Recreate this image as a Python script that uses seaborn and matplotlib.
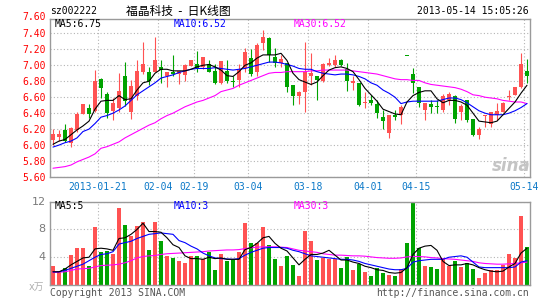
import numpy as np
import pandas as pd
import matplotlib
matplotlib.use("Agg")
import matplotlib.pyplot as plt
import seaborn as sns

# ---------------- data ----------------
tick_pos = [8, 18, 24, 33, 43, 53, 61, 79]
tick_labels = ["2013-01-21", "02-04", "02-19", "03-04", "03-18", "04-01", "04-15", "05-14"]
vol_grid_pos = [8, 18, 33, 43, 53, 61]
vol_ticks = [4, 8, 12]
vol_tick_labels = ["4", "8", "12"]

open_ = [6.06, 6.10, 6.19, 6.03, 6.19, 6.39, 6.47, 6.43, 6.83, 6.64,
         6.43, 6.46, 6.87, 6.41, 6.61, 6.91, 6.92, 6.92, 6.98, 6.87,
         6.91, 6.89, 6.88, 6.99, 7.02, 6.98, 7.02, 6.93, 6.78, 6.93,
         6.80, 6.82, 6.97, 7.09, 6.91, 7.28, 7.34, 7.11, 7.03, 7.03,
         6.75, 6.61, 6.67, 6.86, 6.86, 6.80, 7.00, 7.00, 7.06, 6.95,
         6.78, 6.78, 6.53, 6.57, 6.52, 6.35, 6.15, 6.38, 6.38, 7.12,
         6.89, 6.73, 6.44, 6.52, 6.49, 6.44, 6.57, 6.61, 6.42, 6.56,
         6.33, 6.13, 6.37, 6.27, 6.38, 6.42, 6.60, 6.63, 6.73, 6.93]
high = [6.20, 6.19, 6.26, 6.23, 6.42, 6.52, 6.52, 6.94, 6.84, 6.67,
        6.59, 6.90, 7.04, 6.82, 7.07, 7.29, 6.98, 7.35, 7.07, 6.91,
        7.13, 6.93, 7.02, 7.07, 7.18, 7.10, 7.06, 7.02, 7.05, 7.06,
        6.86, 7.02, 7.22, 7.21, 7.28, 7.44, 7.36, 7.22, 7.13, 7.03,
        6.75, 6.68, 7.29, 7.15, 6.86, 7.03, 7.09, 7.13, 7.08, 7.03,
        6.86, 6.78, 6.67, 6.63, 6.57, 6.44, 6.38, 6.44, 6.50, 7.12,
        6.97, 6.73, 6.53, 6.56, 6.56, 6.64, 6.67, 6.63, 6.52, 6.56,
        6.33, 6.23, 6.38, 6.42, 6.53, 6.54, 6.69, 6.73, 7.16, 7.08]
low = [6.00, 6.05, 6.04, 5.98, 6.16, 6.39, 6.34, 6.42, 6.59, 6.34,
       6.31, 6.41, 6.49, 6.33, 6.57, 6.89, 6.75, 6.92, 6.78, 6.73,
       6.87, 6.77, 6.80, 6.99, 6.91, 6.95, 6.91, 6.77, 6.77, 6.78,
       6.73, 6.73, 6.92, 6.86, 6.86, 7.19, 7.04, 6.98, 6.98, 6.67,
       6.50, 6.51, 6.41, 6.75, 6.57, 6.79, 6.99, 6.98, 6.99, 6.68,
       6.69, 6.49, 6.46, 6.50, 6.34, 6.20, 6.09, 6.32, 6.27, 7.12,
       6.65, 6.48, 6.32, 6.40, 6.40, 6.42, 6.50, 6.28, 6.32, 6.29,
       6.12, 6.07, 6.23, 6.23, 6.32, 6.41, 6.56, 6.63, 6.71, 6.78]
close = [6.14, 6.14, 6.05, 6.21, 6.39, 6.52, 6.39, 6.80, 6.71, 6.40,
         6.53, 6.68, 6.55, 6.74, 6.93, 7.02, 6.80, 7.07, 6.94, 6.91,
         6.89, 6.93, 7.00, 7.07, 6.96, 7.10, 6.92, 6.78, 7.05, 6.80,
         6.79, 6.94, 7.17, 6.89, 7.25, 7.36, 7.13, 7.03, 7.08, 6.73,
         6.62, 6.67, 6.91, 6.90, 6.82, 7.01, 7.03, 7.07, 7.00, 6.80,
         6.80, 6.50, 6.54, 6.53, 6.40, 6.30, 6.38, 6.35, 6.48, 7.12,
         6.78, 6.53, 6.53, 6.48, 6.48, 6.62, 6.64, 6.33, 6.49, 6.32,
         6.13, 6.20, 6.38, 6.42, 6.43, 6.53, 6.61, 6.73, 7.02, 6.87]

ma5 = [6.01, 6.05, 6.07, 6.13, 6.19, 6.24, 6.30, 6.45, 6.55, 6.56,
       6.56, 6.62, 6.57, 6.58, 6.69, 6.78, 6.80, 6.90, 6.95, 6.95,
       6.93, 6.93, 6.93, 6.95, 6.98, 7.00, 7.01, 6.98, 6.94, 6.87,
       6.86, 6.92, 7.00, 7.03, 7.09, 7.13, 7.13, 7.13, 7.15, 7.06,
       6.90, 6.82, 6.79, 6.76, 6.79, 6.87, 6.94, 6.97, 6.98, 6.96,
       6.92, 6.82, 6.71, 6.63, 6.55, 6.45, 6.42, 6.39, 6.38, 6.54,
       6.62, 6.66, 6.68, 6.68, 6.58, 6.53, 6.56, 6.56, 6.54, 6.50,
       6.40, 6.30, 6.29, 6.28, 6.30, 6.38, 6.46, 6.54, 6.65, 6.75]
ma10 = [5.975, 6.00, 6.03, 6.05, 6.09, 6.17, 6.20, 6.27, 6.35, 6.37,
        6.40, 6.44, 6.49, 6.56, 6.63, 6.68, 6.73, 6.78, 6.84, 6.86,
        6.88, 6.91, 6.93, 6.95, 6.96, 6.96, 6.96, 6.97, 6.96, 6.95,
        6.94, 6.95, 6.96, 6.98, 7.00, 7.02, 7.04, 7.04, 7.03, 7.01,
        6.99, 6.96, 6.95, 6.95, 6.92, 6.90, 6.89, 6.88, 6.89, 6.89,
        6.88, 6.86, 6.83, 6.78, 6.75, 6.69, 6.65, 6.60, 6.52, 6.54,
        6.55, 6.55, 6.55, 6.55, 6.55, 6.57, 6.59, 6.59, 6.57, 6.53,
        6.48, 6.43, 6.40, 6.38, 6.38, 6.38, 6.40, 6.43, 6.47, 6.52]
ma30 = [5.71, 5.72, 5.73, 5.75, 5.79, 5.82, 5.85, 5.89, 5.96, 5.98,
        6.01, 6.04, 6.09, 6.13, 6.17, 6.21, 6.25, 6.28, 6.33, 6.37,
        6.40, 6.44, 6.48, 6.51, 6.54, 6.56, 6.59, 6.62, 6.67, 6.69,
        6.71, 6.75, 6.78, 6.81, 6.84, 6.87, 6.90, 6.91, 6.91, 6.92,
        6.92, 6.92, 6.92, 6.93, 6.93, 6.94, 6.94, 6.94, 6.94, 6.94,
        6.93, 6.92, 6.91, 6.90, 6.89, 6.87, 6.85, 6.83, 6.82, 6.82,
        6.81, 6.81, 6.78, 6.76, 6.75, 6.74, 6.73, 6.72, 6.70, 6.67,
        6.63, 6.62, 6.60, 6.59, 6.58, 6.56, 6.55, 6.54, 6.54, 6.52]

volume = [2.8, 2.0, 2.5, 4.3, 5.3, 5.3, 2.8, 8.3, 4.8, 4.9,
          4.4, 11.1, 8.6, 7.1, 8.5, 9.1, 5.1, 9.1, 6.4, 4.2,
          3.9, 3.5, 3.1, 4.2, 4.2, 3.7, 4.8, 2.2, 4.5, 3.5,
          3.6, 4.8, 8.9, 6.1, 6.1, 8.3, 5.7, 3.8, 2.7, 4.2,
          2.9, 1.3, 7.8, 6.3, 3.6, 3.9, 3.75, 3.75, 2.45, 4.0,
          2.15, 3.0, 1.9, 1.3, 2.4, 1.7, 1.45, 1.3, 2.3, 6.1,
          11.9, 5.3, 2.7, 2.55, 2.3, 3.85, 2.7, 3.4, 2.6, 3.2,
          2.3, 1.05, 1.8, 2.15, 2.15, 2.9, 4.5, 3.9, 9.9, 5.5]
vol_ma5 = [1.9, 1.9, 2.3, 2.9, 3.4, 3.9, 4.0, 5.2, 5.3, 5.2,
           5.0, 6.7, 6.8, 7.3, 8.0, 8.9, 7.7, 7.7, 7.6, 6.8,
           5.8, 5.4, 4.2, 3.8, 3.8, 3.7, 4.0, 3.8, 3.9, 3.7,
           3.7, 3.7, 5.1, 5.4, 6.0, 6.8, 7.0, 6.0, 5.3, 4.9,
           3.9, 2.9, 3.7, 4.4, 4.4, 4.6, 5.0, 4.3, 3.6, 3.6,
           3.3, 3.1, 2.7, 2.5, 2.2, 2.1, 1.8, 1.7, 1.8, 2.5,
           4.4, 5.3, 5.6, 5.7, 5.0, 3.4, 2.8, 2.9, 2.9, 3.1,
           2.9, 2.5, 2.2, 2.0, 1.9, 2.0, 2.6, 3.1, 4.6, 5.3]
vol_ma10 = [1.9, 1.9, 2.1, 2.4, 2.7, 3.0, 3.5, 4.0, 4.4, 4.5,
            4.8, 5.9, 6.1, 6.3, 6.7, 7.0, 7.3, 7.4, 7.5, 7.4,
            7.3, 6.4, 6.1, 5.6, 5.2, 4.6, 4.2, 3.9, 3.8, 3.75,
            3.7, 3.8, 4.3, 4.7, 5.0, 5.3, 5.4, 5.4, 5.4, 5.3,
            5.0, 4.8, 4.5, 4.2, 4.1, 4.0, 3.9, 3.8, 3.7, 3.7,
            3.6, 3.4, 3.1, 2.9, 2.7, 2.5, 2.3, 2.2, 2.2, 2.4,
            3.3, 3.5, 3.6, 3.7, 3.7, 3.7, 4.0, 4.1, 4.2, 4.0,
            3.3, 2.6, 2.5, 2.5, 2.5, 2.5, 2.5, 2.6, 3.3, 3.5]
vol_ma30 = [1.8, 1.85, 1.9, 2.1, 2.3, 2.35, 2.4, 2.6, 2.8, 2.85,
            2.9, 3.0, 3.2, 3.5, 3.9, 4.1, 4.2, 4.25, 4.4, 4.5,
            4.55, 4.6, 4.65, 4.7, 4.75, 4.8, 4.9, 4.95, 5.0, 5.05,
            5.05, 5.1, 5.25, 5.35, 5.45, 5.5, 5.5, 5.5, 5.45, 5.4,
            5.2, 5.0, 4.9, 4.8, 4.7, 4.5, 4.4, 4.3, 4.3, 4.25,
            4.2, 4.2, 4.15, 4.05, 3.95, 3.9, 3.85, 3.85, 3.9, 4.05,
            4.1, 4.1, 4.05, 3.95, 3.9, 3.8, 3.75, 3.7, 3.6, 3.5,
            3.4, 3.2, 3.1, 3.05, 3.0, 3.0, 3.05, 3.1, 3.2, 3.3]

# ---------------- style ----------------
sns.set_style("white")
plt.rcParams["font.family"] = ["DejaVu Sans Mono", "Noto Sans CJK SC"]

RED = "#ff5252"
GREEN = "#00a300"
GRID = "#b4b4b4"
FRAME = "#9a9a9a"
LW = 0.8

W, H = 545, 300
fig = plt.figure(figsize=(W / 100, H / 100), dpi=100)
fig.patch.set_facecolor("white")

def fx(x):
    return x / W

def fy(y):
    return 1 - y / H

ax = fig.add_axes([fx(50), fy(177), 480 / W, 158 / H])
axv = fig.add_axes([fx(50), fy(285), 480 / W, 83.3 / H])

idx = np.arange(len(close))
o = np.array(open_); c = np.array(close)
h = np.array(high); l = np.array(low)
colors = np.where(c > o, RED, GREEN)

df = pd.DataFrame({"i": idx, "ma5": ma5, "ma10": ma10, "ma30": ma30,
                   "vol": volume, "v5": vol_ma5, "v10": vol_ma10, "v30": vol_ma30})

# ---- price panel ----
ax.vlines(idx, l, h, colors=colors, lw=0.8, zorder=2)
ax.bar(idx, np.maximum(np.abs(c - o), 0.012), bottom=np.minimum(o, c),
       width=0.82, color=colors, lw=0, zorder=3)
sns.lineplot(data=df, x="i", y="ma30", color="#ff00ff", lw=LW, ax=ax, zorder=4)
sns.lineplot(data=df, x="i", y="ma10", color="#0000ff", lw=LW, ax=ax, zorder=5)
sns.lineplot(data=df, x="i", y="ma5", color="black", lw=LW, ax=ax, zorder=6)

ax.set_xlim(-0.5, 79.5)
ax.set_ylim(5.60, 7.58)
yt = np.round(np.arange(5.6, 7.41, 0.2), 2)
ax.set_yticks(yt)
ax.set_yticklabels([f"{v:.2f}" for v in yt])
ax.set_xticks(np.array(tick_pos) - 0.5)
ax.set_xticklabels(tick_labels)
ax.tick_params(axis="y", length=0, pad=3.3, labelcolor="#ff0000", labelsize=7)
ax.tick_params(axis="x", length=0, pad=3.5, labelcolor="#0a78c8", labelsize=7)
ax.set_xlabel(""); ax.set_ylabel("")
ax.grid(True, color=GRID, linestyle=(0, (1, 2)), lw=0.8)
ax.set_axisbelow(True)
for s in ax.spines.values():
    s.set_color(FRAME); s.set_linewidth(1); s.set_visible(True)
ax.text(-4.6 / 480, 7.60, "7.60", transform=ax.get_yaxis_transform(),
        ha="right", va="center", color="#ff0000", fontsize=7, clip_on=False)

# ---- volume panel ----
axv.bar(idx, volume, width=0.82, color=colors, lw=0, zorder=2)
sns.lineplot(data=df, x="i", y="v30", color="#ff00ff", lw=LW, ax=axv, zorder=4)
sns.lineplot(data=df, x="i", y="v10", color="#0000ff", lw=LW, ax=axv, zorder=5)
sns.lineplot(data=df, x="i", y="v5", color="black", lw=LW, ax=axv, zorder=6)
axv.set_xlim(-0.5, 79.5)
axv.set_ylim(0, 12)
axv.set_yticks(vol_ticks)
axv.set_yticklabels([])
axv.set_xticks(np.array(vol_grid_pos) - 0.5)
axv.set_xticklabels([])
axv.tick_params(axis="both", length=0)
axv.set_xlabel(""); axv.set_ylabel("")
axv.grid(True, color=GRID, linestyle=(0, (1, 2)), lw=0.8)
axv.set_axisbelow(True)
for s in axv.spines.values():
    s.set_color(FRAME); s.set_linewidth(1); s.set_visible(True)
for v, lab in zip(vol_ticks, vol_tick_labels):
    fig.text(fx(45.5), fy(285 - v * 83.3 / 12), lab, ha="right", va="center",
             color="#7a7a7a", fontsize=8, family="DejaVu Sans")

# ---- texts ----
fig.text(fx(50), fy(11), "sz002222", ha="left", va="center", fontsize=7, color="black")
fig.text(fx(178), fy(11), "福晶科技  -  日K线图", ha="center", va="center", fontsize=8.5,
         color="black", family=["Noto Sans CJK SC", "DejaVu Sans"])
fig.text(fx(529), fy(11), "2013-05-14 15:05:26", ha="right", va="center", fontsize=7, color="black")

fig.text(fx(55), fy(24), "MA5:6.75", ha="left", va="center", fontsize=7, color="black")
fig.text(fx(174), fy(24), "MA10:6.52", ha="left", va="center", fontsize=7, color="#0000ff")
fig.text(fx(294), fy(24), "MA30:6.52", ha="left", va="center", fontsize=7, color="#ff00ff")

fig.text(fx(55), fy(206), "MA5:5", ha="left", va="center", fontsize=7, color="black")
fig.text(fx(174), fy(206), "MA10:3", ha="left", va="center", fontsize=7, color="#0000ff")
fig.text(fx(294), fy(206), "MA30:3", ha="left", va="center", fontsize=7, color="#ff00ff")

fig.text(fx(36), fy(287), "x万", ha="center", va="center", fontsize=7, color="#b0b0b0",
         family=["DejaVu Sans", "Noto Sans CJK SC"])
fig.text(fx(50), fy(293), "Copyright 2013 SINA.COM", ha="left", va="center", fontsize=7, color="#555555")
fig.text(fx(529), fy(293), "http://finance.sina.com.cn", ha="right", va="center", fontsize=7, color="#555555")

fig.text(fx(511), fy(166), "sina", ha="center", va="center", fontsize=12, fontstyle="italic",
         fontweight="bold", color="#c4c4c4", family="DejaVu Sans")

fig.savefig("out.png", dpi=100, facecolor="white")
